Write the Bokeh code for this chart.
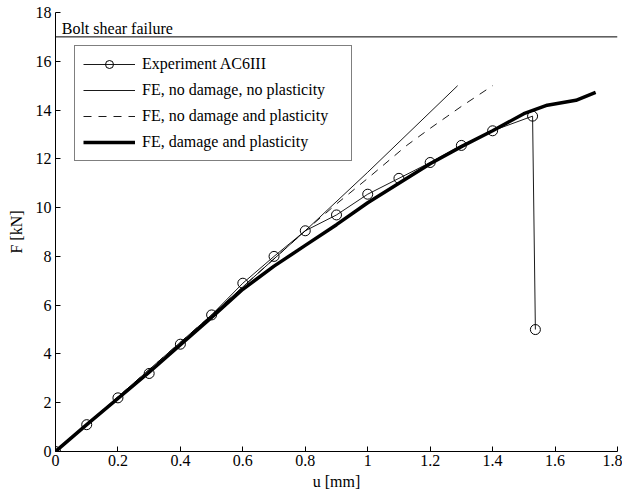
from bokeh.plotting import figure
from bokeh.models import Range1d, FixedTicker, Legend
from bokeh.core.properties import value
from bokeh.embed import file_html
from bokeh.resources import INLINE

# Experiment AC6III
exp_u = [0.0, 0.1, 0.2, 0.3, 0.4, 0.5, 0.6, 0.7, 0.8, 0.9, 1.0, 1.1, 1.2, 1.3, 1.4, 1.528, 1.537]
exp_F = [0.0, 1.1, 2.2, 3.2, 4.4, 5.6, 6.9, 8.0, 9.05, 9.7, 10.55, 11.2, 11.85, 12.55, 13.15, 13.75, 5.0]

# FE, no damage, no plasticity
fe1_u = [0.0, 0.5, 0.8, 1.0, 1.288]
fe1_F = [0.0, 5.6, 9.05, 11.45, 15.0]

# FE, no damage and plasticity
fe2_u = [0.0, 0.5, 0.8, 0.9, 1.0, 1.125, 1.2, 1.3, 1.40]
fe2_F = [0.0, 5.6, 9.05, 10.15, 11.2, 12.55, 13.25, 14.15, 15.0]

# FE, damage and plasticity
fe3_u = [0.0, 0.1, 0.3, 0.5, 0.6, 0.7, 0.8, 0.9, 1.0, 1.1, 1.2, 1.3, 1.4, 1.5, 1.575, 1.667, 1.73]
fe3_F = [0.0, 1.1, 3.25, 5.5, 6.65, 7.6, 8.45, 9.3, 10.2, 11.0, 11.8, 12.5, 13.15, 13.85, 14.2, 14.4, 14.72]

failure_F = 17.0
failure_label = "Bolt shear failure"

x_ticks = [0, 0.2, 0.4, 0.6, 0.8, 1.0, 1.2, 1.4, 1.6, 1.8]
x_tick_labels = ["0", "0.2", "0.4", "0.6", "0.8", "1", "1.2", "1.4", "1.6", "1.8"]
y_ticks = [0, 2, 4, 6, 8, 10, 12, 14, 16, 18]
y_tick_labels = ["0", "2", "4", "6", "8", "10", "12", "14", "16", "18"]

FONT = "Liberation Serif"

p = figure(width=622, height=492, output_backend="svg", toolbar_location=None,
           x_range=Range1d(0, 1.8), y_range=Range1d(0, 18),
           min_border_left=55, min_border_right=5, min_border_top=12, min_border_bottom=38)
p.outline_line_color = None
p.xgrid.visible = False
p.ygrid.visible = False
p.background_fill_color = "white"
p.border_fill_color = "white"

for ax, ticks, labels in ((p.xaxis[0], x_ticks, x_tick_labels), (p.yaxis[0], y_ticks, y_tick_labels)):
    ax.ticker = FixedTicker(ticks=ticks)
    ax.major_label_overrides = {t: l for t, l in zip(ticks, labels)}
    ax.major_tick_in = 5
    ax.major_tick_out = 0
    ax.minor_tick_line_color = None
    ax.axis_line_color = "black"
    ax.major_tick_line_color = "black"
    ax.major_label_text_font = FONT
    ax.major_label_text_font_size = "16px"
    ax.major_label_text_color = "black"
    ax.axis_label_text_font = FONT
    ax.axis_label_text_font_size = "16px"
    ax.axis_label_text_font_style = "normal"
    ax.axis_label_text_color = "black"

p.xaxis.axis_label = "u [mm]"
p.yaxis.axis_label = "F [kN]"
p.xaxis.major_label_standoff = 3
p.xaxis.axis_label_standoff = 4
p.yaxis.major_label_standoff = 4
p.yaxis.axis_label_standoff = 8

# failure line
p.line([0, 1.8], [failure_F, failure_F], line_color="black", line_width=1)
p.text(x=[0.02], y=[failure_F], text=[failure_label], text_font=value(FONT),
       text_font_size="16px", text_baseline="alphabetic", text_align="left",
       y_offset=-8, text_color="black")

r_exp_line = p.line(exp_u, exp_F, line_color="black", line_width=0.9)
r_fe1 = p.line(fe1_u, fe1_F, line_color="black", line_width=0.9)
r_fe2 = p.line(fe2_u, fe2_F, line_color="black", line_width=0.9, line_dash="8 7")
r_fe3 = p.line(fe3_u, fe3_F, line_color="black", line_width=3.5)
r_exp_pts = p.scatter(exp_u, exp_F, marker="circle", size=10, line_color="black",
                      line_width=1, fill_alpha=0)

legend = Legend(items=[
    ("Experiment AC6III", [r_exp_line, r_exp_pts]),
    ("FE, no damage, no plasticity", [r_fe1]),
    ("FE, no damage and plasticity", [r_fe2]),
    ("FE, damage and plasticity", [r_fe3]),
], location=(19, 290))
legend.label_text_font = FONT
legend.label_text_font_size = "16px"
legend.label_text_color = "black"
legend.label_height = 20
legend.glyph_height = 20
legend.glyph_width = 52
legend.label_standoff = 7
legend.label_width = 201
legend.spacing = 6
legend.padding = 8
legend.margin = 0
legend.border_line_color = "black"
legend.border_line_width = 1
legend.background_fill_color = "white"
legend.background_fill_alpha = 1
p.add_layout(legend, "center")

open("out.html", "w").write(file_html(p, INLINE))
